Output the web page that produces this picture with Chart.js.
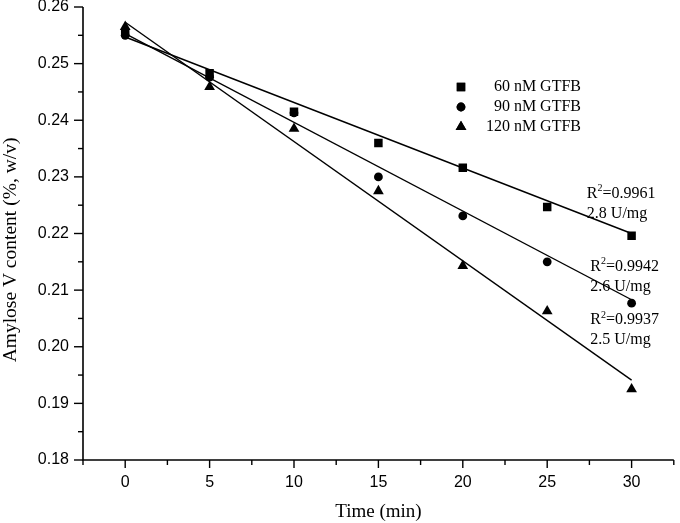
<!DOCTYPE html>
<html>
<head>
<meta charset="utf-8">
<script src="https://cdn.jsdelivr.net/npm/chart.js@4.4.1/dist/chart.umd.min.js"></script>
<style>
  html, body { margin: 0; padding: 0; background: #fff; }
  #wrap { width: 680px; height: 523px; position: relative; }
</style>
</head>
<body>
<div id="wrap"><canvas id="myChart"></canvas></div>
<script>
"use strict";

var times = [0, 5, 10, 15, 20, 25, 30];
var gtfb60 = [0.2555, 0.2483, 0.2415, 0.2360, 0.2316, 0.2247, 0.2196];
var gtfb90 = [0.2550, 0.2476, 0.2413, 0.2300, 0.2231, 0.2150, 0.2077];
var gtfb120 = [0.2565, 0.2459, 0.2385, 0.2275, 0.2143, 0.2063, 0.1925];

// fitted lines, values at t = 0 and t = 30
var fitTimes = [0, 30];
var fit60 = [0.2547, 0.2200];
var fit90 = [0.2553, 0.2083];
var fit120 = [0.2573, 0.1941];

var seriesNames = ['60 nM GTFB', '90 nM GTFB', '120 nM GTFB'];
var r2Labels = ['R', 'R', 'R'];
var r2Values = ['=0.9961', '=0.9942', '=0.9937'];
var activityLabels = ['2.8 U/mg', '2.6 U/mg', '2.5 U/mg'];
// annotation anchors in data units [time, content]
var noteTimes = [27.35, 27.55, 27.55];
var noteValues = [0.2270, 0.2142, 0.2047];

var SERIF = '"Liberation Serif", "Times New Roman", serif';
var SANS = '"Liberation Sans", Arial, sans-serif';

function pts(xs, ys) {
  var out = [];
  for (var i = 0; i < xs.length; i++) {
    out.push({x: xs[i], y: ys[i]});
  }
  return out;
}

function markerSet(label, data, style, radius) {
  return {
    label: label,
    data: pts(times, data),
    showLine: false,
    pointStyle: style,
    pointRadius: radius,
    pointHoverRadius: radius,
    backgroundColor: '#000',
    borderColor: '#000',
    borderWidth: 0
  };
}

function fitSet(data) {
  return {
    label: 'fit',
    data: pts(fitTimes, data),
    showLine: true,
    pointRadius: 0,
    borderColor: '#000',
    borderWidth: 1.4,
    fill: false
  };
}

function isMultiple(v, step) {
  var q = v / step;
  return Math.abs(q - Math.round(q)) < 1e-6;
}

// tick marks (major + minor), legend and annotations
var decorPlugin = {
  id: 'decor',
  afterDraw: function(chart) {
    var ctx = chart.ctx;
    var xs = chart.scales.x, ys = chart.scales.y;
    var area = chart.chartArea;
    ctx.save();
    ctx.strokeStyle = '#000';
    ctx.lineWidth = 1.6;

    // axis lines
    ctx.beginPath();
    ctx.moveTo(area.left, area.top);
    ctx.lineTo(area.left, area.bottom);
    ctx.lineTo(area.right, area.bottom);
    ctx.stroke();

    ctx.lineWidth = 1.4;
    ys.ticks.forEach(function(t) {
      var py = ys.getPixelForValue(t.value);
      var len = isMultiple(t.value, 0.01) ? 9 : 5;
      ctx.beginPath();
      ctx.moveTo(area.left, py);
      ctx.lineTo(area.left - len, py);
      ctx.stroke();
    });
    xs.ticks.forEach(function(t) {
      var px = xs.getPixelForValue(t.value);
      var len = isMultiple(t.value, 5) ? 8 : 5;
      ctx.beginPath();
      ctx.moveTo(px, area.bottom);
      ctx.lineTo(px, area.bottom + len);
      ctx.stroke();
    });

    // y axis title
    ctx.fillStyle = '#000';
    ctx.font = '19.5px ' + SERIF;
    ctx.textAlign = 'center';
    ctx.textBaseline = 'middle';
    ctx.translate(11, 250);
    ctx.rotate(-Math.PI / 2);
    ctx.fillText('Amylose V content (%, w/v)', 0, 0);
    ctx.setTransform(1, 0, 0, 1, 0, 0);
    ctx.restore();

    // legend
    ctx.save();
    ctx.fillStyle = '#000';
    ctx.font = '16px ' + SERIF;
    ctx.textBaseline = 'middle';
    ctx.textAlign = 'right';
    for (var i = 0; i < 3; i++) {
      var ds = chart.data.datasets[i];
      var ly = 87 + i * 20;
      Chart.helpers.drawPoint(ctx, {
        pointStyle: ds.pointStyle,
        radius: ds.pointRadius,
        borderWidth: 0
      }, 461, ly);
      ctx.fillStyle = '#000';
      ctx.fill();
      ctx.fillText(seriesNames[i], 581, ly);
    }

    // R^2 and activity notes
    ctx.textAlign = 'left';
    for (var j = 0; j < 3; j++) {
      var nx = xs.getPixelForValue(noteTimes[j]);
      var ny = ys.getPixelForValue(noteValues[j]);
      ctx.font = '16px ' + SERIF;
      ctx.fillText(r2Labels[j], nx, ny);
      var rw = ctx.measureText(r2Labels[j]).width;
      ctx.font = '10px ' + SERIF;
      ctx.fillText('2', nx + rw, ny - 5);
      var sw = ctx.measureText('2').width;
      ctx.font = '16px ' + SERIF;
      ctx.fillText(r2Values[j], nx + rw + sw, ny);
      ctx.fillText(activityLabels[j], nx, ny + 20);
    }
    ctx.restore();
  }
};

var ctx = document.getElementById('myChart').getContext('2d');
var chart = new Chart(ctx, {
  type: 'scatter',
  data: {
    datasets: [
      markerSet(seriesNames[0], gtfb60, 'rect', 6),
      markerSet(seriesNames[1], gtfb90, 'circle', 4.4),
      markerSet(seriesNames[2], gtfb120, 'triangle', 6.2),
      fitSet(fit60),
      fitSet(fit90),
      fitSet(fit120)
    ]
  },
  options: {
    responsive: true,
    maintainAspectRatio: false,
    animation: false,
    layout: { padding: { top: 7, right: 2, left: 0, bottom: 0 } },
    plugins: {
      legend: { display: false },
      tooltip: { enabled: false }
    },
    scales: {
      x: {
        type: 'linear',
        min: -2.5,
        max: 32.5,
        grid: { display: false },
        border: { display: false },
        ticks: {
          stepSize: 2.5,
          autoSkip: false,
          maxRotation: 0,
          padding: 5,
          color: '#000',
          font: { family: SANS, size: 16 },
          callback: function(v) { return isMultiple(v, 5) ? String(Math.round(v)) : ''; }
        },
        title: {
          display: true,
          text: 'Time (min)',
          color: '#000',
          font: { family: SERIF, size: 19 },
          padding: { top: 0, bottom: 0 }
        },
        afterFit: function(scale) {
          scale.height = 63;
          scale.paddingLeft = 0;
          scale.paddingRight = 0;
        }
      },
      y: {
        type: 'linear',
        min: 0.18,
        max: 0.26,
        grid: { display: false },
        border: { display: false },
        ticks: {
          stepSize: 0.005,
          autoSkip: false,
          padding: 6,
          color: '#000',
          font: { family: SANS, size: 16 },
          callback: function(v) { return isMultiple(v, 0.01) ? v.toFixed(2) : ''; }
        },
        afterFit: function(scale) {
          scale.width = 83;
          scale.paddingTop = 0;
          scale.paddingBottom = 0;
        }
      }
    }
  },
  plugins: [decorPlugin]
});
</script>
</body>
</html>
